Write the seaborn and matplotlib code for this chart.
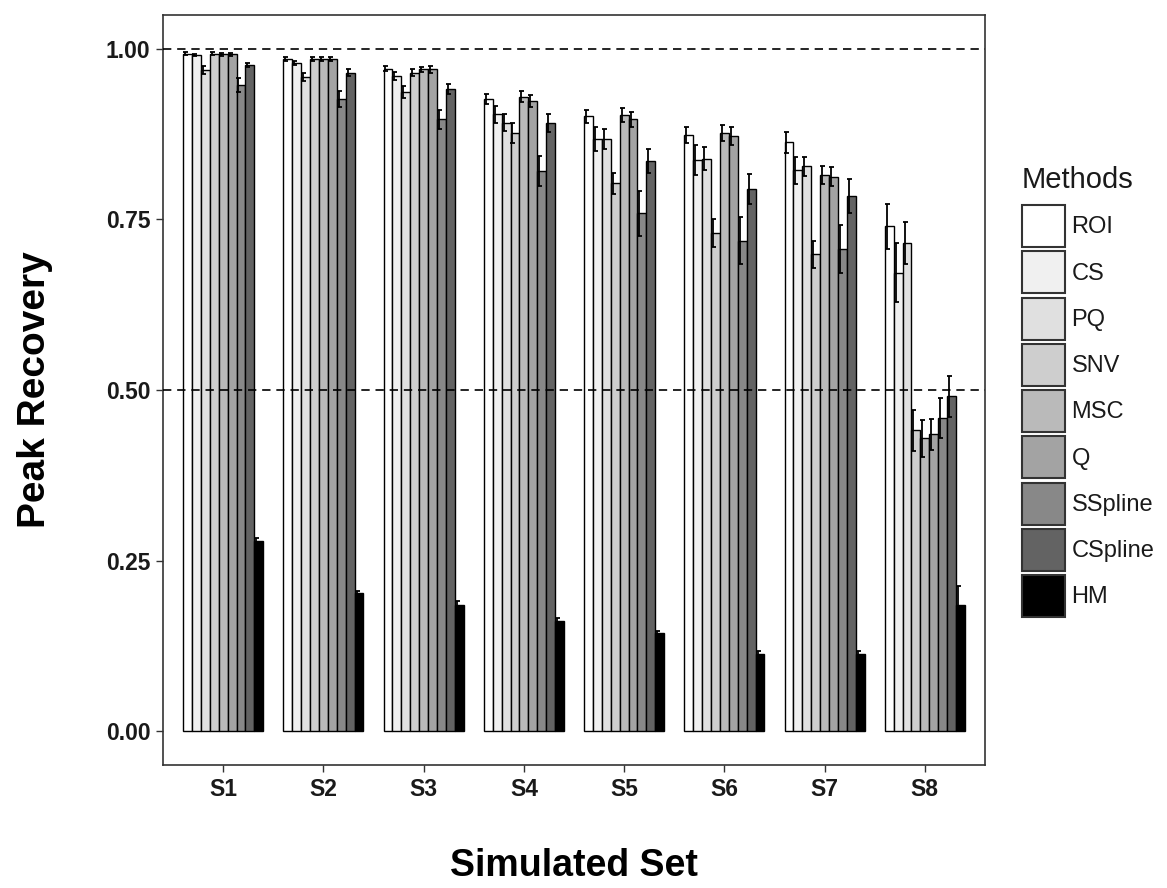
import numpy as np
import pandas as pd
import matplotlib
matplotlib.use("Agg")
import matplotlib.pyplot as plt
import seaborn as sns

sets = ["S1", "S2", "S3", "S4", "S5", "S6", "S7", "S8"]
methods = ["ROI", "CS", "PQ", "SNV", "MSC", "Q", "SSpline", "CSpline", "HM"]

roi = [0.993, 0.985, 0.971, 0.927, 0.901, 0.874, 0.863, 0.740]
cs = [0.991, 0.980, 0.960, 0.904, 0.868, 0.837, 0.822, 0.672]
pq = [0.969, 0.959, 0.937, 0.892, 0.868, 0.839, 0.828, 0.716]
snv = [0.993, 0.985, 0.965, 0.877, 0.803, 0.730, 0.699, 0.441]
msc = [0.992, 0.985, 0.970, 0.930, 0.903, 0.877, 0.815, 0.429]
q = [0.992, 0.985, 0.970, 0.924, 0.897, 0.872, 0.813, 0.435]
sspline = [0.947, 0.927, 0.897, 0.821, 0.759, 0.719, 0.707, 0.459]
cspline = [0.977, 0.965, 0.941, 0.891, 0.836, 0.795, 0.784, 0.491]
hm = [0.279, 0.203, 0.185, 0.161, 0.144, 0.113, 0.113, 0.185]

roi_sd = [0.002, 0.003, 0.004, 0.007, 0.009, 0.012, 0.015, 0.033]
cs_sd = [0.002, 0.003, 0.006, 0.012, 0.017, 0.022, 0.020, 0.043]
pq_sd = [0.006, 0.006, 0.009, 0.012, 0.015, 0.017, 0.014, 0.031]
snv_sd = [0.002, 0.003, 0.005, 0.015, 0.015, 0.020, 0.020, 0.030]
msc_sd = [0.002, 0.003, 0.004, 0.008, 0.010, 0.012, 0.013, 0.027]
q_sd = [0.002, 0.003, 0.005, 0.009, 0.011, 0.013, 0.014, 0.023]
sspline_sd = [0.010, 0.012, 0.014, 0.022, 0.033, 0.035, 0.035, 0.030]
cspline_sd = [0.003, 0.005, 0.007, 0.013, 0.018, 0.022, 0.025, 0.030]
hm_sd = [0.004, 0.003, 0.005, 0.004, 0.003, 0.004, 0.004, 0.028]

means = [roi, cs, pq, snv, msc, q, sspline, cspline, hm]
sds = [roi_sd, cs_sd, pq_sd, snv_sd, msc_sd, q_sd, sspline_sd, cspline_sd, hm_sd]

colors = ["#ffffff", "#f0f0f0", "#e0e0e0", "#cecece", "#bababa",
          "#a3a3a3", "#888888", "#636363", "#000000"]
palette = dict(zip(methods, colors))

rows = []
for m, vals, ss in zip(methods, means, sds):
    for s, v, e in zip(sets, vals, ss):
        rows.append({"Set": s, "Method": m, "Recovery": v, "SD": e})
df = pd.DataFrame(rows)

sns.set_style("white")
plt.rcParams["font.family"] = ["Liberation Sans", "DejaVu Sans"]

fig = plt.figure(figsize=(11.67, 8.88), dpi=100)
ax = fig.add_axes([163 / 1167, 1 - 765 / 888, (985 - 163) / 1167, (765 - 15) / 888])

sns.barplot(data=df, x="Set", y="Recovery", hue="Method", order=sets,
            hue_order=methods, palette=palette, errorbar=None,
            edgecolor="black", linewidth=1.0, width=0.8, ax=ax)

# error bars located from the bar patches drawn by seaborn
for cont, m in zip(ax.containers, methods):
    sub = df[df["Method"] == m].set_index("Set").loc[sets]
    xs = [p.get_x() + p.get_width() / 2 - 0.025 for p in cont.patches]
    ys = [p.get_height() for p in cont.patches]
    ax.errorbar(xs, ys, yerr=sub["SD"].values, fmt="none", ecolor="black",
                elinewidth=1.3, capsize=1.8, capthick=1.3, zorder=5)

ax.axhline(1.0, color="black", linestyle=(0, (5, 3.5)), linewidth=1.2, zorder=6)
ax.axhline(0.5, color="black", linestyle=(0, (5, 3.5)), linewidth=1.2, zorder=6)

ax.set_xlim(-0.6, 7.6)
ax.set_ylim(-0.0498, 1.0498)
ax.set_yticks([0.0, 0.25, 0.5, 0.75, 1.0])
ax.set_yticklabels(["0.00", "0.25", "0.50", "0.75", "1.00"])

for sp in ax.spines.values():
    sp.set_visible(True)
    sp.set_color("#333333")
    sp.set_linewidth(1.2)

ax.tick_params(axis="both", which="major", length=5, width=1.0, color="#333333",
               labelsize=16.5, labelcolor="#1a1a1a", pad=4, bottom=True, left=True)
for lab in ax.get_xticklabels() + ax.get_yticklabels():
    lab.set_fontweight("bold")

ax.set_xlabel("Simulated Set", fontsize=27, fontweight="bold", labelpad=34, color="black")
ax.set_ylabel("Peak Recovery", fontsize=28, fontweight="bold", labelpad=38, color="black")

handles, labels = ax.get_legend_handles_labels()
leg = ax.legend(handles, labels, title="Methods", loc="upper left",
                bbox_to_anchor=(1022 / 1167, 1 - 166 / 888),
                bbox_transform=fig.transFigure, frameon=False,
                fontsize=17, title_fontsize=21, handlelength=1.8,
                handleheight=2.36, labelspacing=0.18, handletextpad=0.3,
                borderaxespad=0, borderpad=0)
leg._legend_box.align = "left"
leg._legend_box.sep = 8
leg.get_title().set_color("#1a1a1a")
for t in leg.get_texts():
    t.set_color("#1a1a1a")
for h in leg.legend_handles:
    h.set_edgecolor("#333333")
    h.set_linewidth(1.5)

fig.savefig("out.png", dpi=100)
